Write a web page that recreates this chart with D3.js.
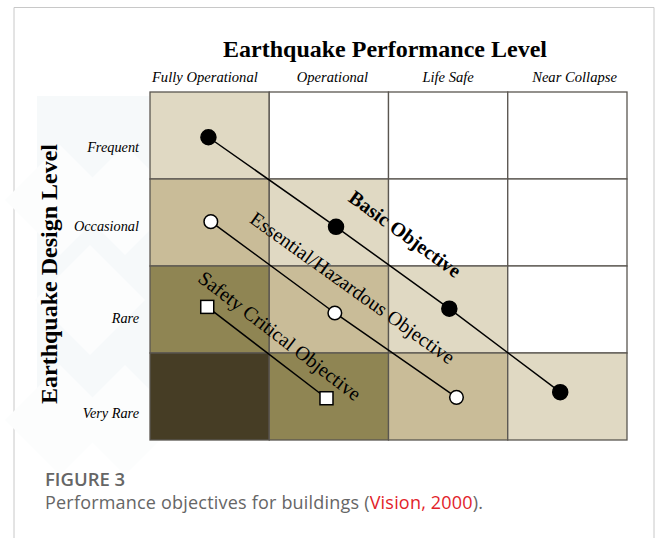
<!DOCTYPE html>
<html>
<head>
<meta charset="utf-8">
<script src="https://cdn.jsdelivr.net/npm/d3@7"></script>
<style>
  body { margin: 0; background: #fff; }
  svg { display: block; }
</style>
</head>
<body>
<svg width="656" height="538"></svg>
<script>
var svg = d3.select("svg");

// columns / rows
var perfLevels = ["Fully Operational", "Operational", "Life Safe", "Near Collapse"];
var headerX = [0.46, 1.53, 2.50, 3.56];
var designLevels = ["Frequent", "Occasional", "Rare", "Very Rare"];
var rowLabelY = [0.63, 1.54, 2.60, 3.69];

// shade of each cell, row by row (0 = white ... 4 = darkest)
var cellShade = [
    [1, 0, 0, 0],
    [2, 1, 0, 0],
    [3, 2, 1, 0],
    [4, 3, 2, 1]
];
var shadeColors = ["#ffffff", "#e0d9c3", "#c9bc98", "#8f8553", "#463d25"];

// objectives, in grid units (column, row)
var basicX = [0.49, 1.56, 2.51, 3.44];
var basicY = [0.52, 1.55, 2.49, 3.45];
var essentialX = [0.51, 1.55, 2.57];
var essentialY = [1.49, 2.54, 3.51];
var safetyX = [0.48, 1.48];
var safetyY = [2.47, 3.52];

var objectives = [
    {name: "Basic Objective", xs: basicX, ys: basicY, marker: "dot", bold: true, lx: 2.14, ly: 1.63},
    {name: "Essential/Hazardous Objective", xs: essentialX, ys: essentialY, marker: "ring", bold: false, lx: 1.70, ly: 2.25},
    {name: "Safety Critical Objective", xs: safetyX, ys: safetyY, marker: "square", bold: false, lx: 1.09, ly: 2.80}
];

var x = d3.scaleLinear().domain([0, 4]).range([150, 627]);
var y = d3.scaleLinear().domain([0, 4]).range([92, 440]);

// card frame
svg.append("path")
    .attr("d", "M14,538 V7.5 H654 V538")
    .attr("fill", "none")
    .attr("stroke", "#c8c8c8")
    .attr("stroke-width", 1);

// faint watermark behind the row labels
var wm = svg.append("g");
wm.append("rect")
    .attr("x", 37).attr("y", 96).attr("width", 112).attr("height", 345)
    .attr("fill", "#f6f9fa");
[[60, 200], [125, 200], [90, 300], [60, 420], [125, 420]].forEach(function (c) {
    wm.append("path")
        .attr("d", "M" + c[0] + "," + (c[1] - 55) + " l55,55 l-55,55 l-55,-55 z")
        .attr("fill", "#fcfdfd");
});

// title
svg.append("text")
    .attr("x", 385).attr("y", 57)
    .attr("text-anchor", "middle")
    .style("font-family", "'Liberation Serif', 'Times New Roman', serif")
    .style("font-weight", "bold")
    .style("font-size", "24px")
    .text("Earthquake Performance Level");

svg.append("text")
    .attr("transform", "translate(57,274) rotate(-90)")
    .attr("text-anchor", "middle")
    .style("font-family", "'Liberation Serif', 'Times New Roman', serif")
    .style("font-weight", "bold")
    .style("font-size", "24px")
    .text("Earthquake Design Level");

// column headers
svg.append("g").selectAll("text")
    .data(perfLevels)
    .enter().append("text")
    .attr("x", function (d, i) { return x(headerX[i]); })
    .attr("y", 82)
    .attr("text-anchor", "middle")
    .style("font-family", "'Liberation Serif', 'Times New Roman', serif")
    .style("font-style", "italic")
    .style("font-size", "14.6px")
    .text(function (d) { return d; });

// row labels
svg.append("g").selectAll("text")
    .data(designLevels)
    .enter().append("text")
    .attr("x", 139)
    .attr("y", function (d, i) { return y(rowLabelY[i]) + 5; })
    .attr("text-anchor", "end")
    .style("font-family", "'Liberation Serif', 'Times New Roman', serif")
    .style("font-style", "italic")
    .style("font-size", "14.3px")
    .text(function (d) { return d; });

// cells
var cells = [];
cellShade.forEach(function (row, r) {
    row.forEach(function (s, c) {
        cells.push({r: r, c: c, shade: s});
    });
});

svg.append("g").selectAll("rect")
    .data(cells)
    .enter().append("rect")
    .attr("x", function (d) { return x(d.c); })
    .attr("y", function (d) { return y(d.r); })
    .attr("width", function (d) { return x(d.c + 1) - x(d.c); })
    .attr("height", function (d) { return y(d.r + 1) - y(d.r); })
    .attr("fill", function (d) { return shadeColors[d.shade]; })
    .attr("stroke", "#5a5650")
    .attr("stroke-width", 1.3);

// objectives
var line = d3.line()
    .x(function (d) { return x(d[0]); })
    .y(function (d) { return y(d[1]); });

objectives.forEach(function (o) {
    var pts = o.xs.map(function (v, i) { return [v, o.ys[i]]; });
    var g = svg.append("g");

    g.append("path")
        .attr("d", line(pts))
        .attr("fill", "none")
        .attr("stroke", "#000")
        .attr("stroke-width", 1.5);

    if (o.marker === "square") {
        g.selectAll("rect")
            .data(pts)
            .enter().append("rect")
            .attr("x", function (d) { return x(d[0]) - 6.5; })
            .attr("y", function (d) { return y(d[1]) - 6.5; })
            .attr("width", 13).attr("height", 13)
            .attr("fill", "#fff")
            .attr("stroke", "#000")
            .attr("stroke-width", 1.5);
    } else {
        g.selectAll("circle")
            .data(pts)
            .enter().append("circle")
            .attr("cx", function (d) { return x(d[0]); })
            .attr("cy", function (d) { return y(d[1]); })
            .attr("r", o.marker === "dot" ? 7.5 : 6.8)
            .attr("fill", o.marker === "dot" ? "#000" : "#fff")
            .attr("stroke", "#000")
            .attr("stroke-width", 1.5);
    }

    var p0 = pts[0], p1 = pts[pts.length - 1];
    var ang = Math.atan2(y(p1[1]) - y(p0[1]), x(p1[0]) - x(p0[0])) * 180 / Math.PI;

    g.append("text")
        .attr("transform", "translate(" + x(o.lx) + "," + y(o.ly) + ") rotate(" + ang + ")")
        .attr("text-anchor", "middle")
        .attr("dy", "0.35em")
        .style("font-family", "'Liberation Serif', 'Times New Roman', serif")
        .style("font-weight", o.bold ? "bold" : "normal")
        .style("font-size", "20px")
        .text(o.name);
});

// caption
svg.append("text")
    .attr("x", 45).attr("y", 486)
    .style("font-family", "'Open Sans', sans-serif")
    .style("font-weight", "600")
    .style("font-size", "18.5px")
    .attr("fill", "#666")
    .text("FIGURE 3");

var cap = svg.append("text")
    .attr("x", 45).attr("y", 509)
    .style("font-family", "'Open Sans', sans-serif")
    .style("font-size", "18px")
    .style("letter-spacing", "0.2px")
    .attr("fill", "#666");
cap.append("tspan").text("Performance objectives for buildings (");
cap.append("tspan").attr("fill", "#e2232a").text("Vision, 2000");
cap.append("tspan").text(").");
</script>
</body>
</html>
